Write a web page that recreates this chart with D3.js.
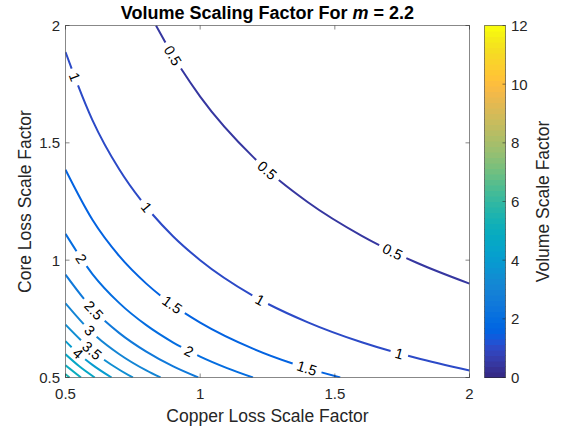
<!DOCTYPE html>
<html>
<head>
<meta charset="utf-8">
<script src="https://cdn.jsdelivr.net/npm/d3@7"></script>
<style>
  body { margin: 0; background: #fff; }
  svg text { font-family: Helvetica, Arial, "Liberation Sans", sans-serif; fill: #262626; }
</style>
</head>
<body>
<div id="chart-target"></div>
<script>
// contour levels and the traced lines (copper loss factor, core loss factor)
var levels = [0.5, 1, 1.5, 2, 2.5, 3, 3.5, 4, 4.5, 5, 5.5];

var contour05 = [[0.836, 2.0], [0.9, 1.870], [1.0, 1.697], [1.2, 1.436], [1.4, 1.247], [1.6, 1.104], [1.8, 0.991], [2.0, 0.900]];
var contour10 = [[0.5, 1.887], [0.6, 1.597], [0.7, 1.386], [0.8, 1.227], [0.9, 1.101], [1.0, 1.0], [1.2, 0.846], [1.4, 0.735], [1.6, 0.650], [1.8, 0.584], [2.0, 0.530]];
var contour15 = [[0.5, 1.385], [0.6, 1.172], [0.7, 1.017], [0.8, 0.900], [0.9, 0.808], [1.0, 0.734], [1.2, 0.621], [1.4, 0.539], [1.52, 0.5]];
var contour20 = [[0.5, 1.112], [0.6, 0.941], [0.7, 0.817], [0.8, 0.723], [0.9, 0.649], [1.0, 0.589], [1.1, 0.540], [1.196, 0.5]];
var contour25 = [[0.5, 0.938], [0.6, 0.793], [0.7, 0.689], [0.8, 0.610], [0.9, 0.547], [0.993, 0.5]];
var contour30 = [[0.5, 0.816], [0.6, 0.690], [0.7, 0.599], [0.8, 0.530], [0.853, 0.5]];
var contour35 = [[0.5, 0.725], [0.6, 0.614], [0.7, 0.533], [0.75, 0.5]];
var contour40 = [[0.5, 0.655], [0.55, 0.600], [0.6, 0.554], [0.671, 0.5]];
var contour45 = [[0.5, 0.599], [0.55, 0.549], [0.6085, 0.5]];
var contour50 = [[0.5, 0.552], [0.5574, 0.5]];
var contour55 = [[0.5, 0.514], [0.5149, 0.5]];

var contourLines = [contour05, contour10, contour15, contour20, contour25, contour30,
  contour35, contour40, contour45, contour50, contour55];

// where the inline labels sit: [level, x, y]
var labelSpots = [
  [0.5, 0.889, 1.865], [0.5, 1.245, 1.377], [0.5, 1.713, 1.031],
  [1, 0.529, 1.779], [1, 0.800, 1.224], [1, 1.223, 0.830], [1, 1.739, 0.600],
  [1.5, 0.896, 0.809], [1.5, 1.397, 0.540],
  [2, 0.543, 0.993], [2, 0.956, 0.608],
  [2.5, 0.599, 0.779], [3, 0.603, 0.715], [3.5, 0.599, 0.617], [4, 0.547, 0.604]
];

var xTicks = [0.5, 1, 1.5, 2],
  yTicks = [0.5, 1, 1.5, 2],
  colorTicks = [0, 2, 4, 6, 8, 10, 12];

var colorDomain = [0, 12];

// parula, 64 rows
var parula = [
  [0.2081,0.1663,0.5292],[0.2116,0.1898,0.5777],[0.2123,0.2138,0.6270],[0.2081,0.2386,0.6771],
  [0.1959,0.2645,0.7279],[0.1707,0.2919,0.7792],[0.1253,0.3242,0.8303],[0.0591,0.3598,0.8683],
  [0.0117,0.3875,0.8820],[0.0060,0.4086,0.8828],[0.0165,0.4266,0.8786],[0.0329,0.4430,0.8720],
  [0.0498,0.4586,0.8641],[0.0629,0.4737,0.8554],[0.0723,0.4887,0.8467],[0.0779,0.5040,0.8384],
  [0.0793,0.5200,0.8312],[0.0749,0.5375,0.8263],[0.0641,0.5570,0.8240],[0.0488,0.5772,0.8228],
  [0.0343,0.5966,0.8199],[0.0265,0.6137,0.8135],[0.0239,0.6287,0.8038],[0.0231,0.6418,0.7913],
  [0.0228,0.6535,0.7768],[0.0267,0.6642,0.7607],[0.0384,0.6743,0.7436],[0.0590,0.6838,0.7254],
  [0.0843,0.6928,0.7062],[0.1133,0.7015,0.6859],[0.1453,0.7098,0.6646],[0.1801,0.7177,0.6424],
  [0.2178,0.7250,0.6193],[0.2586,0.7317,0.5954],[0.3022,0.7376,0.5712],[0.3482,0.7424,0.5473],
  [0.3953,0.7459,0.5244],[0.4420,0.7481,0.5033],[0.4871,0.7491,0.4840],[0.5300,0.7491,0.4661],
  [0.5709,0.7485,0.4494],[0.6099,0.7473,0.4337],[0.6473,0.7456,0.4188],[0.6834,0.7435,0.4044],
  [0.7184,0.7411,0.3905],[0.7525,0.7384,0.3768],[0.7858,0.7356,0.3633],[0.8185,0.7327,0.3498],
  [0.8507,0.7299,0.3360],[0.8824,0.7274,0.3217],[0.9139,0.7258,0.3063],[0.9450,0.7261,0.2886],
  [0.9739,0.7314,0.2666],[0.9938,0.7455,0.2403],[0.9990,0.7653,0.2164],[0.9955,0.7861,0.1967],
  [0.9880,0.8066,0.1794],[0.9789,0.8271,0.1633],[0.9697,0.8481,0.1475],[0.9626,0.8705,0.1309],
  [0.9589,0.8949,0.1132],[0.9598,0.9218,0.0948],[0.9661,0.9514,0.0755],[0.9763,0.9831,0.0538]
];

function rowColor(c) {
  return d3.rgb(c[0] * 255, c[1] * 255, c[2] * 255).formatHex();
}

function cmap(v) {
  var idx = Math.floor((v - colorDomain[0]) / (colorDomain[1] - colorDomain[0]) * parula.length);
  idx = Math.max(0, Math.min(parula.length - 1, idx));
  return rowColor(parula[idx]);
}

var width = 561,
  height = 429;

var plot = {left: 65.5, right: 469.5, top: 25.5, bottom: 377.5};
var bar = {left: 484.5, right: 505.5};

var svg = d3.select('#chart-target').append('svg')
  .attr('width', width)
  .attr('height', height);

var x = d3.scaleLinear().domain([0.5, 2]).range([plot.left, plot.right]);
var y = d3.scaleLinear().domain([0.5, 2]).range([plot.bottom, plot.top]);
var yBar = d3.scaleLinear().domain(colorDomain).range([plot.bottom, plot.top]);

svg.append('clipPath').attr('id', 'plot-clip')
  .append('rect')
  .attr('x', plot.left).attr('y', plot.top)
  .attr('width', plot.right - plot.left)
  .attr('height', plot.bottom - plot.top);

var lineLayer = svg.append('g').attr('clip-path', 'url(#plot-clip)');
var labelLayer = svg.append('g');

var line = d3.line()
  .x(function (d) { return x(d[0]); })
  .y(function (d) { return y(d[1]); })
  .curve(d3.curveMonotoneX);

// draw each contour, then cut gaps in it for its labels
contourLines.forEach(function (pts, i) {
  var level = levels[i];
  var path = lineLayer.append('path')
    .datum(pts)
    .attr('d', line)
    .attr('fill', 'none')
    .attr('stroke', cmap(level))
    .attr('stroke-width', 2);

  var node = path.node();
  var total = node.getTotalLength();
  var samples = d3.range(0, total, 0.5).map(function (l) {
    var p = node.getPointAtLength(l);
    return {l: l, x: p.x, y: p.y};
  });

  var gaps = [];
  labelSpots.filter(function (s) { return s[0] === level; }).forEach(function (s) {
    var px = x(s[1]), py = y(s[2]);
    var best = d3.least(samples, function (d) { return (d.x - px) * (d.x - px) + (d.y - py) * (d.y - py); });
    var a = node.getPointAtLength(Math.max(0, best.l - 4)),
      b = node.getPointAtLength(Math.min(total, best.l + 4));
    var ang = Math.atan2(b.y - a.y, b.x - a.x) * 180 / Math.PI;
    var txt = labelLayer.append('text')
      .attr('transform', 'translate(' + best.x + ',' + best.y + ') rotate(' + ang + ')')
      .attr('text-anchor', 'middle')
      .attr('dy', '0.36em')
      .style('font-size', '14.5px')
      .style('fill', '#000')
      .text(String(level));
    var w = txt.node().getComputedTextLength();
    gaps.push([Math.max(0, best.l - w / 2 - 5), Math.min(total, best.l + w / 2 + 5)]);
  });

  if (gaps.length) {
    gaps.sort(function (a, b) { return a[0] - b[0]; });
    var dash = [], pos = 0;
    gaps.forEach(function (g) {
      dash.push(g[0] - pos, g[1] - g[0]);
      pos = g[1];
    });
    dash.push(total - pos + 1, total + 10);
    path.attr('stroke-dasharray', dash.join(','));
  }
});

// axes box with inward ticks on all sides
var axisColor = '#262626';
var tickLen = 4;

svg.append('rect')
  .attr('x', plot.left).attr('y', plot.top)
  .attr('width', plot.right - plot.left)
  .attr('height', plot.bottom - plot.top)
  .attr('fill', 'none')
  .attr('stroke', axisColor)
  .attr('stroke-opacity', 0.55)
  .attr('stroke-width', 1);

var ticks = svg.append('g').attr('stroke', axisColor).attr('stroke-opacity', 0.55);
xTicks.forEach(function (t) {
  ticks.append('line').attr('x1', x(t)).attr('x2', x(t)).attr('y1', plot.bottom).attr('y2', plot.bottom - tickLen);
  ticks.append('line').attr('x1', x(t)).attr('x2', x(t)).attr('y1', plot.top).attr('y2', plot.top + tickLen);
});
yTicks.forEach(function (t) {
  ticks.append('line').attr('y1', y(t)).attr('y2', y(t)).attr('x1', plot.left).attr('x2', plot.left + tickLen);
  ticks.append('line').attr('y1', y(t)).attr('y2', y(t)).attr('x1', plot.right).attr('x2', plot.right - tickLen);
});

svg.append('g').selectAll('text')
  .data(xTicks)
  .enter().append('text')
  .attr('x', function (d) { return x(d); })
  .attr('y', 398.5)
  .attr('text-anchor', 'middle')
  .style('font-size', '15px')
  .text(function (d) { return d; });

svg.append('g').selectAll('text')
  .data(yTicks)
  .enter().append('text')
  .attr('x', plot.left - 5.5)
  .attr('y', function (d) { return y(d); })
  .attr('dy', '0.36em')
  .attr('text-anchor', 'end')
  .style('font-size', '15px')
  .text(function (d) { return d; });

// axis labels and title
svg.append('text')
  .attr('x', (plot.left + plot.right) / 2)
  .attr('y', 421.5)
  .attr('text-anchor', 'middle')
  .style('font-size', '17.5px')
  .text('Copper Loss Scale Factor');

svg.append('text')
  .attr('transform', 'translate(31,' + (plot.top + plot.bottom) / 2 + ') rotate(-90)')
  .attr('text-anchor', 'middle')
  .style('font-size', '17.5px')
  .text('Core Loss Scale Factor');

var title = svg.append('text')
  .attr('x', (plot.left + plot.right) / 2)
  .attr('y', 19)
  .attr('text-anchor', 'middle')
  .style('font-size', '18px')
  .style('font-weight', 'bold')
  .style('fill', '#000');
title.append('tspan').text('Volume Scaling Factor For ');
title.append('tspan').style('font-style', 'italic').text('m');
title.append('tspan').text(' = 2.2');

// colorbar
var bands = d3.range(parula.length);
svg.append('g').selectAll('rect')
  .data(bands)
  .enter().append('rect')
  .attr('x', bar.left)
  .attr('width', bar.right - bar.left)
  .attr('y', function (d) { return yBar((d + 1) / parula.length * colorDomain[1]); })
  .attr('height', function (d) { return yBar(d / parula.length * colorDomain[1]) - yBar((d + 1) / parula.length * colorDomain[1]) + 0.5; })
  .attr('fill', function (d) { return rowColor(parula[d]); });

svg.append('rect')
  .attr('x', bar.left).attr('y', plot.top)
  .attr('width', bar.right - bar.left)
  .attr('height', plot.bottom - plot.top)
  .attr('fill', 'none')
  .attr('stroke', axisColor)
  .attr('stroke-opacity', 0.55);

var barTicks = svg.append('g').attr('stroke', axisColor).attr('stroke-opacity', 0.55);
colorTicks.forEach(function (t) {
  barTicks.append('line').attr('x1', bar.right).attr('x2', bar.right - 3).attr('y1', yBar(t)).attr('y2', yBar(t));
});

svg.append('g').selectAll('text')
  .data(colorTicks)
  .enter().append('text')
  .attr('x', bar.right + 5.5)
  .attr('y', function (d) { return yBar(d); })
  .attr('dy', '0.36em')
  .style('font-size', '15px')
  .text(function (d) { return d; });

svg.append('text')
  .attr('transform', 'translate(549,' + (plot.top + plot.bottom) / 2 + ') rotate(-90)')
  .attr('text-anchor', 'middle')
  .style('font-size', '17.5px')
  .text('Volume Scale Factor');
</script>
</body>
</html>
